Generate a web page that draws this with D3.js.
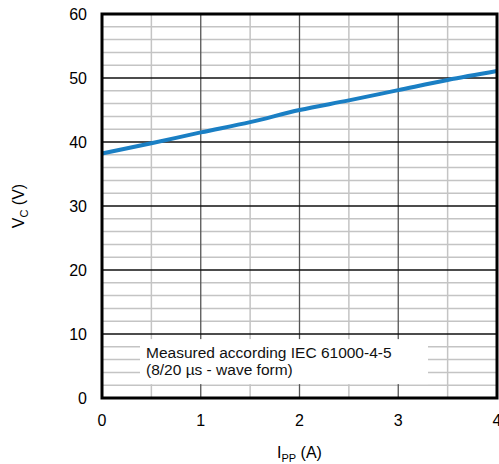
<!DOCTYPE html>
<html>
<head>
<meta charset="utf-8">
<script src="https://cdn.jsdelivr.net/npm/d3@7"></script>
<style>
body { margin: 0; background: #fff; }
text { font-family: "Liberation Sans", Arial, sans-serif; }
</style>
</head>
<body>
<svg width="499" height="464"></svg>
<script>
const ippValues = [0, 0.5, 1, 1.5, 2, 2.5, 3, 3.5, 4];
const vcValues = [38.2, 39.8, 41.5, 43.1, 45, 46.5, 48.1, 49.7, 51.1];
const xTicks = [0, 1, 2, 3, 4];
const yTicks = [0, 10, 20, 30, 40, 50, 60];
const noteLines = ["Measured according IEC 61000-4-5", "(8/20 µs - wave form)"];

const svg = d3.select("svg");
const margin = { top: 14, right: 2, bottom: 66, left: 102 };
const width = 499, height = 464;
const innerWidth = width - margin.left - margin.right;
const innerHeight = height - margin.top - margin.bottom;

const x = d3.scaleLinear().domain([0, 4]).range([0, innerWidth]);
const y = d3.scaleLinear().domain([0, 60]).range([innerHeight, 0]);

const g = svg.append("g").attr("transform", `translate(${margin.left},${margin.top})`);

// minor grid
const minorY = d3.range(0, 61, 2).filter(v => v % 10 !== 0);
g.selectAll(".minor-y").data(minorY).enter().append("line")
    .attr("x1", 0).attr("x2", innerWidth)
    .attr("y1", d => y(d)).attr("y2", d => y(d))
    .attr("stroke", "#c4c4c4").attr("stroke-width", 1.5);

const minorX = [0.5, 1.5, 2.5, 3.5];
g.selectAll(".minor-x").data(minorX).enter().append("line")
    .attr("x1", d => x(d)).attr("x2", d => x(d))
    .attr("y1", 0).attr("y2", innerHeight)
    .attr("stroke", "#c4c4c4").attr("stroke-width", 1.5);

// major grid
g.selectAll(".major-x").data(xTicks.slice(1, -1)).enter().append("line")
    .attr("x1", d => x(d)).attr("x2", d => x(d))
    .attr("y1", 0).attr("y2", innerHeight)
    .attr("stroke", "#555").attr("stroke-width", 1.3);

g.selectAll(".major-y").data(yTicks.slice(1, -1)).enter().append("line")
    .attr("x1", 0).attr("x2", innerWidth)
    .attr("y1", d => y(d)).attr("y2", d => y(d))
    .attr("stroke", "#111").attr("stroke-width", 1.3);

// note box
const note = g.append("g");
note.append("rect")
    .attr("x", 38).attr("y", y(9.2))
    .attr("width", 288).attr("height", 45)
    .attr("fill", "#fff");
note.selectAll("text").data(noteLines).enter().append("text")
    .attr("x", 44)
    .attr("y", (d, i) => y(9.2) + 19 + i * 17)
    .attr("font-size", 15.5)
    .attr("fill", "#111")
    .text(d => d);

// curve
const line = d3.line()
    .x((d, i) => x(ippValues[i]))
    .y(d => y(d))
    .curve(d3.curveMonotoneX);

g.append("path")
    .datum(vcValues)
    .attr("d", line)
    .attr("fill", "none")
    .attr("stroke", "#1a7fc4")
    .attr("stroke-width", 4);

// frame
g.append("rect")
    .attr("width", innerWidth).attr("height", innerHeight)
    .attr("fill", "none").attr("stroke", "#000").attr("stroke-width", 3);

// tick labels
g.selectAll(".xl").data(xTicks).enter().append("text")
    .attr("x", d => x(d)).attr("y", innerHeight + 28)
    .attr("text-anchor", "middle").attr("font-size", 16)
    .text(d => d);

g.selectAll(".yl").data(yTicks).enter().append("text")
    .attr("x", -15).attr("y", d => y(d) + 6)
    .attr("text-anchor", "end").attr("font-size", 16)
    .text(d => d);

// axis titles
const xt = svg.append("text")
    .attr("x", margin.left + innerWidth / 2).attr("y", 458)
    .attr("text-anchor", "middle").attr("font-size", 16);
xt.append("tspan").text("I");
xt.append("tspan").attr("font-size", 11).attr("dy", 4).text("PP");
xt.append("tspan").attr("dy", -4).text(" (A)");

const yt = svg.append("text")
    .attr("transform", `translate(24, ${margin.top + innerHeight / 2}) rotate(-90)`)
    .attr("text-anchor", "middle").attr("font-size", 16);
yt.append("tspan").text("V");
yt.append("tspan").attr("font-size", 11).attr("dy", 4).text("C");
yt.append("tspan").attr("dy", -4).text(" (V)");
</script>
</body>
</html>
